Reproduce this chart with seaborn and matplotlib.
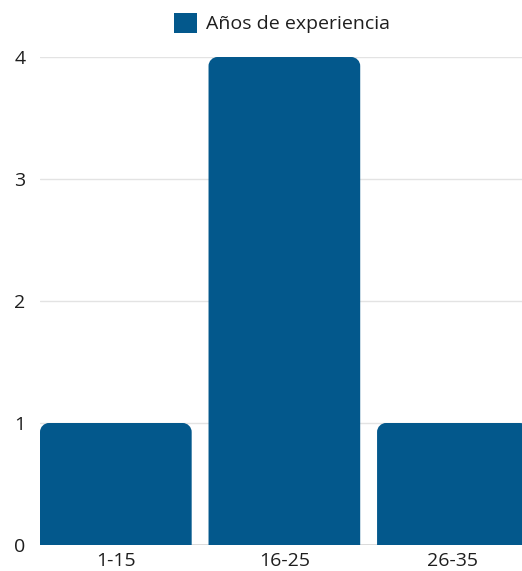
import matplotlib
matplotlib.use("Agg")
import matplotlib.pyplot as plt
import seaborn as sns
import pandas as pd
from matplotlib.path import Path
from matplotlib.patches import PathPatch, Patch

categories = ["1-15", "16-25", "26-35"]
values = [1, 4, 1]
series_name = "Años de experiencia"
yticks = [0, 1, 2, 3, 4]

color = "#03588C"

sns.set_theme(style="white")
plt.rcParams["font.family"] = ["Open Sans", "DejaVu Sans"]

df = pd.DataFrame({"cat": categories, "val": values})

fig = plt.figure(figsize=(5.22, 5.71), dpi=100)
ax = fig.add_axes([40/522, 26/571, 1 - 40/522, (545-57)/571])

sns.barplot(data=df, x="cat", y="val", color=color, width=0.9, ax=ax,
            saturation=1, zorder=3)

ax.set_xlim(-0.45, 2.41)
ax.set_ylim(0, 4)

# replace rectangles with rounded-top paths
fig.canvas.draw()
px_per_x = ax.bbox.width / (ax.get_xlim()[1] - ax.get_xlim()[0])
px_per_y = ax.bbox.height / (ax.get_ylim()[1] - ax.get_ylim()[0])
r_px = 9
rx, ry = r_px / px_per_x, r_px / px_per_y
k = 0.5523
for p in list(ax.patches):
    x0, y0 = p.get_x(), p.get_y()
    w, h = p.get_width(), p.get_height()
    x1, y1 = x0 + w, y0 + h
    verts = [
        (x0, y0), (x0, y1 - ry),
        (x0, y1 - ry + k*ry), (x0 + rx - k*rx, y1), (x0 + rx, y1),
        (x1 - rx, y1),
        (x1 - rx + k*rx, y1), (x1, y1 - ry + k*ry), (x1, y1 - ry),
        (x1, y0), (x0, y0),
    ]
    codes = [Path.MOVETO, Path.LINETO,
             Path.CURVE4, Path.CURVE4, Path.CURVE4,
             Path.LINETO,
             Path.CURVE4, Path.CURVE4, Path.CURVE4,
             Path.LINETO, Path.CLOSEPOLY]
    pp = PathPatch(Path(verts, codes), facecolor=color, edgecolor="none", zorder=3)
    p.remove()
    ax.add_patch(pp)

ax.set_yticks(yticks)
ax.yaxis.grid(True, color="#e3e3e3", linewidth=1, zorder=0)
ax.set_axisbelow(True)
for s in ax.spines.values():
    s.set_visible(False)
ax.axhline(0, color="#d6d6d6", linewidth=1.2, zorder=2)

ax.set_xlabel("")
ax.set_ylabel("")
ax.tick_params(axis="y", length=0, pad=10.5, labelsize=14, labelcolor="#1e1e1e")
ax.tick_params(axis="x", length=0, pad=5, labelsize=14, labelcolor="#1e1e1e")

handles = [Patch(facecolor=color, edgecolor="none", label=series_name)]
fig.legend(handles=handles, loc="center", bbox_to_anchor=(282/522, 1 - 23/571),
           frameon=False, fontsize=14, handlelength=1.2, handleheight=1.2,
           handletextpad=0.45, labelcolor="#1e1e1e")

fig.savefig("out.png", dpi=100)
